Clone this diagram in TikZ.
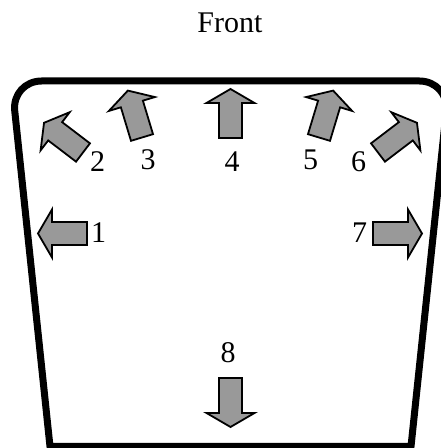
\documentclass[tikz,border=0pt]{standalone}
\usepackage{fontspec}
\setmainfont{Liberation Serif}
\definecolor{arrowgray}{RGB}{153,153,153}
\tikzset{
  outlinestyle/.style={line width=7pt, line join=miter},
  arrowstyle/.style={draw=black, fill=arrowgray, line width=1.8pt, line join=miter},
  lbl/.style={font=\fontsize{30}{36}\selectfont, anchor=base, inner sep=0pt},
  blockarrow/.pic={
    \draw[arrowstyle] (0,-11.5) -- (35,-11.5) -- (35,-24) -- (49,0) -- (35,24) -- (35,11.5) -- (0,11.5) -- cycle;
  }
}
\begin{document}
\begin{tikzpicture}[x=1pt,y=1pt]
\useasboundingbox (0,0) rectangle (441,448);
% outline
\draw[outlinestyle] (50,1.5) [rounded corners=30pt] -- (11.6,367) -- (449.4,367) [sharp corners] -- (411,1.5) -- cycle;
% arrows
\pic[rotate=180] at (87,214.5) {blockarrow};
\pic[rotate=142.7] at (83,295.5) {blockarrow};
\pic[rotate=106.8] at (142,310.5) {blockarrow};
\pic[rotate=90] at (230.5,310) {blockarrow};
\pic[rotate=73.2] at (319,310.5) {blockarrow};
\pic[rotate=37.3] at (378,295.5) {blockarrow};
\pic[rotate=0] at (373,214.5) {blockarrow};
\pic[rotate=270] at (230.5,70) {blockarrow};
% labels
\node[lbl] (front) at (230,415) {Front};
\node[lbl] (l1) at (98.5,205) {1};
\node[lbl] (l2) at (97.5,276) {2};
\node[lbl] (l3) at (148,278) {3};
\node[lbl] (l4) at (232,276) {4};
\node[lbl] (l5) at (310.5,278) {5};
\node[lbl] (l6) at (358.5,276) {6};
\node[lbl] (l7) at (359.5,205) {7};
\node[lbl] (l8) at (228,85) {8};
\end{tikzpicture}
\end{document}
